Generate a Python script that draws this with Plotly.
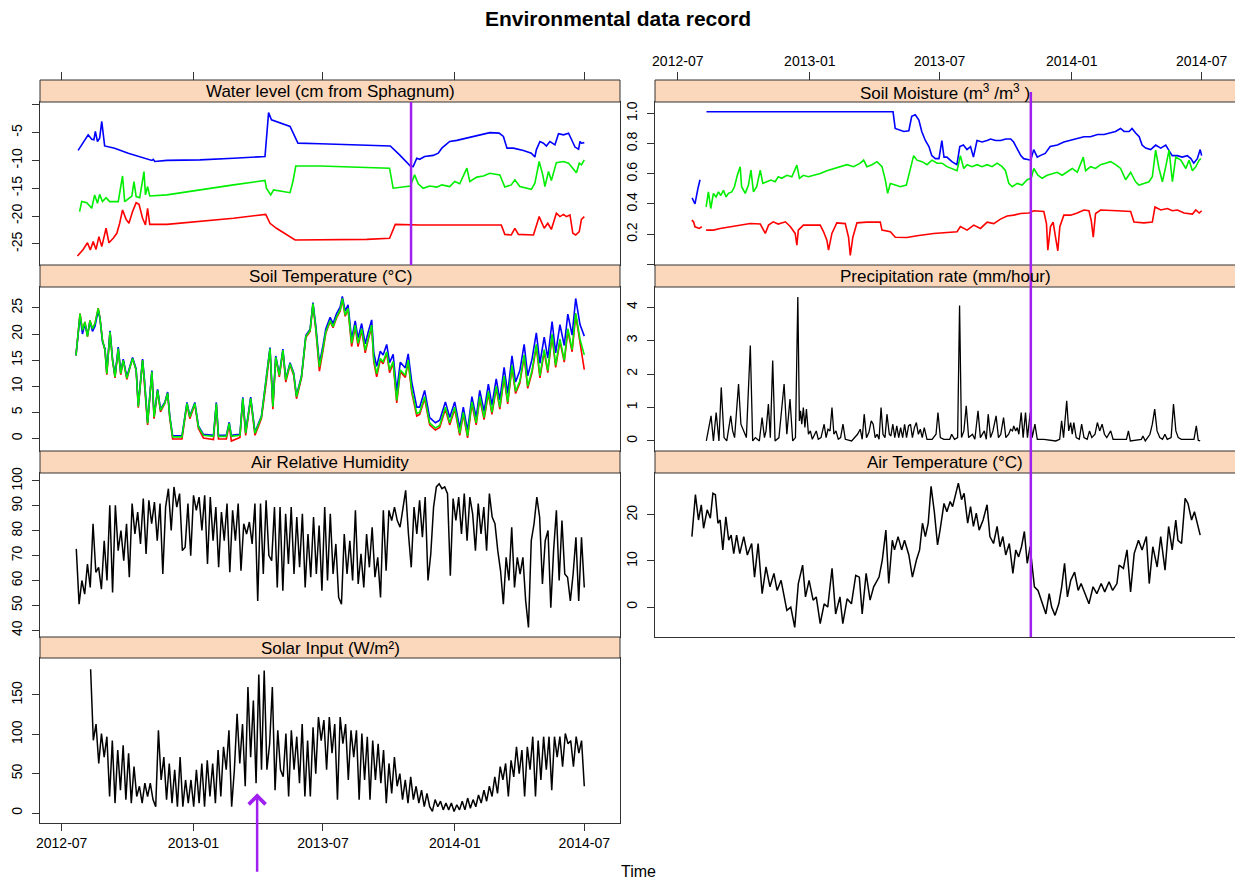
import pandas as pd
import plotly.graph_objects as go

W, H = 1235, 883
BASE = pd.Timestamp("2012-07-01")
FONT = "Liberation Sans, Arial, Helvetica, sans-serif"
LINE = "#333333"
STRIP = "#FBD8BB"
PURPLE = "#A020F0"

# ---------------- data (days since 2012-07-01) ----------------
WL_BLUE_D = [23,37,42,45,47,50,53,56,60,74,93,119,126,128,130,147,193,240,284,289,293,319,330,361,426,459,472,487,491,496,
             500,507,519,526,531,542,552,561,570,580,589,598,611,617,622,631,645,656,661,663,668,673,677,682,689,694,701,708,712,717,
             722,724,726,730]
WL_BLUE = [-8.2,-5.4,-6.2,-6.3,-4.8,-6.6,-6.0,-3.0,-7.4,-7.8,-8.7,-9.7,-10.0,-9.8,-10.2,-10.0,-9.9,-9.6,-9.3,-1.4,
           -2.7,-3.9,-6.9,-7.0,-7.2,-7.4,-9.0,-11.0,-11.1,-9.6,-9.8,-9.3,-9.1,-8.7,-7.8,-6.6,-6.4,-6.1,-5.8,-5.6,
           -5.2,-5.0,-5.1,-5.7,-7.8,-7.8,-8.2,-8.7,-9.4,-8.1,-6.6,-6.9,-7.4,-6.6,-7.2,-5.2,-5.4,-5.1,-6.2,-7.6,
           -8.0,-6.6,-6.9,-6.8]
WL_GREEN_D = [25,28,35,42,46,50,53,57,62,67,79,85,88,98,101,104,109,115,117,120,123,147,240,284,286,292,296,310,319,323,
              327,361,426,458,463,473,487,493,498,505,514,524,531,542,549,556,566,570,580,589,598,612,619,628,633,640,656,661,667,672,
              675,680,684,691,701,708,715,719,723,726,730]
WL_GREEN = [-19.2,-17.4,-17.6,-18.6,-16.2,-17.7,-16.1,-17.4,-16.7,-17.4,-17.4,-12.8,-17.4,-16.4,-13.8,-16.5,-16.7,-12.0,-16.2,-14.7,
            -16.4,-16.2,-14.4,-13.6,-15.0,-16.2,-15.3,-15.6,-15.8,-13.8,-11.0,-11.0,-11.2,-11.4,-15.0,-14.8,-14.6,-12.6,-14.2,-15.0,
            -14.6,-14.8,-14.4,-14.7,-13.8,-14.2,-11.4,-13.8,-13.0,-12.8,-12.3,-12.6,-14.8,-14.4,-13.5,-14.7,-15.2,-14.1,-10.2,-12.6,
            -14.7,-12.0,-13.6,-10.4,-10.2,-10.5,-11.6,-12.2,-10.5,-10.8,-9.9]
WL_RED_D = [22,30,36,40,44,48,52,56,62,66,72,77,81,85,90,94,99,104,108,113,117,120,123,147,240,285,291,300,326,361,
            426,458,466,500,519,614,619,628,633,638,659,663,667,674,679,684,691,696,701,705,710,714,718,723,726,730]
WL_RED = [-27.2,-26.0,-24.8,-26.1,-24.6,-26.0,-23.7,-25.5,-22.2,-24.8,-24.0,-23.1,-21.3,-18.9,-20.6,-21.3,-19.2,-17.6,-17.9,-20.4,
          -21.6,-18.6,-21.5,-21.5,-20.4,-19.7,-21.3,-22.2,-24.3,-24.3,-24.2,-24.0,-21.5,-21.6,-21.6,-21.6,-23.3,-23.4,-22.2,-23.3,
          -23.4,-21.6,-20.1,-22.2,-21.3,-22.4,-19.5,-20.1,-19.7,-20.1,-19.8,-23.1,-23.4,-22.8,-20.6,-20.1]

ST_D = [20,22,25.6,29,32.5,36,39.5,43,46.5,51,53.5,57,60.5,63,67.5,71,74.5,79,82.5,86,91,95.5,99,104,107,113,116,120,126,129,
        134,138,144,148,151,155,168,175,179,186,191,198,212,216,219,230,234,237,249,253,257,264,270,279,286,291,295,299,304,309,
        313,319,324,328,335,341,347,351,355,360,365,369,375,379,384,389,392,396,400,405,410,414,419,424,428,433,436,440,445,449,
        454,458,463,468,473,480,484,489,496,500,507,514,522,528,536,542,549,556,561,567,573,579,584,590,596,601,607,612,618,623,
        629,634,640,646,651,657,663,668,674,679,685,690,696,702,707,713,718,724,730]
ST_GREEN = [15.9,18.8,23.9,20.7,22.3,19.5,22.6,21.0,22.0,24.9,23.0,18.8,16.9,12.4,20.4,15.0,11.8,17.2,12.4,15.0,
            11.5,13.7,15.3,13.1,6.1,15.0,10.5,2.9,12.8,4.1,9.2,5.4,6.7,8.7,4.1,0.3,0.3,6.7,4.1,6.7,
            2.2,0.6,0.4,6.7,0.4,0.4,2.9,0.4,0.6,7.7,1.0,7.7,1.0,4.1,11.2,17.2,6.1,15.6,12.1,16.9,
            11.2,14.3,12.4,8.0,11.8,19.5,20.7,25.8,21.0,13.7,17.2,20.4,22.6,21.4,23.3,24.6,26.8,23.6,24.9,18.2,
            21.7,18.2,21.0,16.9,19.1,21.7,15.0,12.4,15.3,14.7,16.6,13.1,14.7,7.3,13.1,12.1,15.0,9.2,4.8,5.0,
            8.0,3.0,2.0,2.5,6.0,3.0,6.0,1.0,5.0,0.5,7.0,3.0,8.0,4.0,9.0,5.0,10.0,6.0,12.0,7.0,
            14.0,9.0,11.0,16.0,10.0,13.0,18.0,12.0,17.0,13.0,20.0,14.0,19.0,15.0,21.0,17.0,24.0,19.0,16.0]
ST_BLUE = [15.9,18.6,23.5,20.0,22.0,19.8,22.4,20.5,21.5,24.5,23.0,18.5,17.2,12.8,20.6,15.3,12.0,17.5,12.6,15.2,
           11.8,13.9,15.5,13.3,6.3,15.2,10.7,3.1,13.0,4.3,9.4,5.6,6.9,8.9,4.3,0.5,0.5,6.9,4.3,6.9,
           2.4,0.8,0.6,6.9,0.6,0.6,3.1,0.6,0.8,7.9,1.2,7.9,1.2,4.3,11.4,17.4,6.3,15.8,12.3,17.1,
           11.4,14.5,12.6,8.2,12.0,19.7,20.9,26.0,21.5,14.3,17.8,21.0,23.2,22.0,23.9,25.2,27.2,24.4,25.6,19.0,
           22.5,19.2,22.0,18.1,20.3,22.7,16.4,13.8,16.7,16.0,18.0,14.5,16.1,9.0,14.6,13.5,16.2,10.8,6.0,6.0,
           9.2,4.0,3.0,3.5,7.0,4.0,7.0,2.0,6.0,1.5,8.0,4.0,9.2,5.2,10.4,6.4,11.4,7.4,13.6,8.6,
           15.8,10.8,13.0,18.0,12.0,15.2,20.2,14.4,19.4,15.4,22.4,16.4,21.8,17.8,23.8,19.8,26.8,21.8,19.6]
ST_RED = [15.9,18.8,23.9,20.7,22.3,19.5,22.6,21.0,22.0,24.9,23.0,18.8,16.9,12.2,20.4,15.0,11.6,17.2,12.2,15.0,
          11.3,13.7,15.3,13.1,5.9,15.0,10.3,2.6,12.8,3.8,9.2,5.1,6.7,8.7,3.8,-0.1,-0.1,6.5,3.8,6.5,
          1.9,0.1,-0.2,6.5,-0.1,-0.1,2.6,-0.5,0.2,7.5,0.6,7.5,0.6,3.8,11.0,17.0,5.6,15.4,11.8,16.7,
          10.8,14.1,12.1,7.6,11.6,19.3,20.5,25.6,20.8,12.9,16.8,20.2,22.4,21.2,23.1,24.4,26.6,23.4,24.7,17.6,
          21.4,17.6,20.7,16.4,18.8,21.4,14.6,11.8,15.0,14.3,16.3,12.6,14.4,6.8,12.8,11.7,14.7,8.8,4.3,4.6,
          7.6,2.6,1.6,2.1,5.6,2.6,5.6,0.6,4.6,0.1,6.6,2.6,7.6,3.6,8.6,4.6,9.6,5.6,11.6,6.6,
          13.6,8.6,10.6,15.6,9.6,12.6,17.6,11.6,16.6,12.6,19.6,13.6,18.6,14.6,20.6,16.6,23.6,18.6,13.2]

HUM_START, HUM_END = 20.4, 730
HUMIDITY = [72.7,50.5,60,54.5,66.6,57.2,82.8,63.3,65.3,56.5,76,60,90.2,55.2,90.2,72,80.1,68,82.8,61.3,
            90.9,78.7,87.5,74.7,92.9,70.7,92.2,82.8,91.5,76,90.9,62.6,89.5,96.9,80.1,97.6,89.5,94.9,72,73.4,
            90.9,70,94.2,88.2,93.5,80.1,94.2,66.6,93.5,76,89.5,65.3,87.5,76,90.9,63.3,88.2,76,90.9,63.9,
            82.8,78.7,83.5,74.7,90.9,51.8,90.9,62.6,92.2,70,68,89.5,57.2,89.5,55.9,86.8,66.6,89.5,62.6,85.5,
            65.3,86.8,57.2,78.7,61.3,85.5,62.6,82.1,55.9,89.5,60,86.8,62.6,74.7,53.2,50.5,78.7,62.6,76,60,
            88.2,58.6,70.7,57.2,78.7,65.3,81.4,61.3,69.3,53.2,88.2,63.9,88.2,84.1,89.5,84.1,81.4,89.5,96.2,78.7,
            65.3,89.5,78.7,92.2,77.4,93.5,60,70.7,89.5,97.6,98.9,96.9,97.6,94.9,61.9,92.9,84.1,93.5,78.7,94.9,
            76,93.5,86.8,72,90.9,78.7,89.5,72,94.9,85.5,82.8,72,63.9,50.5,69.3,60,81.4,57.2,69.3,62.6,
            69.3,51.8,41.1,76,82.8,93.5,85.5,58.6,76,80.1,49.1,72,88.2,60,84.1,62.6,61.3,51.8,62.6,77.4,
            51.8,77.4,57.2]

SOL_START, SOL_END = 40.4, 730
SOLAR = [182.8,92.4,113,63,101,71,97,21,92,12.6,80,29,86,17,76,12.6,59,21,34,12.6,
         38,21,38,17,8,105,42,71,17,63,12.6,55,8,71,8,42,12.6,42,8,55,
         12.6,63,8,67,21,63,12.6,80,21,84,55,105,8,55,126,63,113,34,160,71,
         143,38,176,55,181,55,88,160,29,105,55,46,101,21,105,55,97,38,113,21,
         92,21,109,50,122,92,118,55,122,76,113,17,122,88,113,42,105,71,105,17,
         101,42,97,17,92,42,88,38,80,12.6,63,25,71,34,50,17,42,12.6,46,17,
         34,12.6,29,8,25,8,2,17,8,15,4,12.6,4,12.6,2,10.5,4,15,4,19,
         6,17,8,23,12.6,29,15,34,21,46,25,59,42,63,21,67,46,84,50,80,
         21,84,55,97,21,92,42,97,55,97,29,97,71,97,59,101,88,92,59,97,
         76,92,34]

SM_BLUE_D = [20,24,28,31,35,40,300,303,308,315,322,326,331,336,340,345,350,354,359,364,
             368,371,375,382,389,393,398,403,408,412,417,424,431,436,443,450,457,464,468,473,
             478,482,489,492,496,501,505,512,519,529,538,547,557,566,575,585,594,603,610,617,
             622,629,633,638,643,647,652,659,666,673,680,685,689,696,703,710,715,719,724,728,730]
SM_BLUE = [0.44,0.40,0.50,0.56,None,1.01,1.01,0.90,0.89,0.88,0.885,0.98,0.99,0.956,0.88,0.82,0.78,0.72,0.70,0.70,
           0.82,0.71,0.71,0.68,0.66,0.78,0.79,0.76,0.78,0.71,0.82,0.81,0.82,0.83,0.82,0.82,0.83,0.83,0.81,0.76,
           0.72,0.70,0.69,0.69,0.76,0.71,0.72,0.735,0.78,0.79,0.81,0.82,0.83,0.845,0.845,0.86,0.86,0.87,0.88,0.90,
           0.88,0.88,0.90,0.87,0.845,0.79,0.77,0.76,0.79,0.77,0.79,0.75,0.72,0.72,0.71,0.72,0.70,0.67,0.70,0.76,0.72]
SM_GREEN_D = [39.5,42.7,46,49.7,53.4,56.7,60,63.6,67.4,70.6,75.3,79,83,87,89,94,98.5,102,105.5,110,
              115,118.5,124,130,135.7,140,145,152,159,166,169.6,175,182,191.5,198.5,207.8,217.1,226.4,235.7,245,
              254.3,259,263.6,270.6,277.6,284.6,289.2,292.5,296.2,303.2,310.1,318.5,324.1,328.7,333.4,340.4,347.3,354.3,361.3,368.3,
              375.2,382.2,389.2,393.8,398.5,403.2,410.1,417.1,424.1,431.1,438,445,452,456.7,461.3,466,473,479.9,486.9,492.5,
              496.2,501.8,507.8,514.8,521.8,528.7,535.7,542.7,549.7,556.7,565.1,568.3,575.3,582.2,589.2,596.2,603.2,610.1,617.1,624.1,
              631.1,638,642.7,649.6,656.6,661.3,665.9,670.6,675.3,680,684.6,689.3,694,701,708,712.5,717.2,721.9,726.6,729]
SM_GREEN = [0.38,0.48,0.37,0.47,0.447,0.48,0.456,0.49,0.447,0.47,0.48,0.514,0.59,0.646,0.514,0.47,0.525,0.624,0.48,0.514,
            0.624,0.536,0.547,0.558,0.547,0.58,0.57,0.59,0.58,0.657,0.57,0.59,0.58,0.59,0.602,0.62,0.635,0.647,0.66,0.647,
            0.67,0.69,0.647,0.66,0.68,0.647,0.56,0.47,0.536,0.525,0.514,0.525,0.635,0.72,0.69,0.68,0.66,0.69,0.67,0.67,
            0.647,0.635,0.62,0.72,0.635,0.66,0.647,0.66,0.647,0.66,0.647,0.67,0.647,0.62,0.536,0.514,0.536,0.525,0.56,0.57,
            0.635,0.59,0.57,0.59,0.60,0.61,0.59,0.61,0.635,0.61,0.71,0.62,0.647,0.635,0.66,0.67,0.68,0.66,0.635,0.56,
            0.61,0.547,0.525,0.536,0.547,0.58,0.757,0.635,0.547,0.647,0.757,0.547,0.71,0.69,0.635,0.69,0.62,0.647,0.69,0.70]
SM_RED_D = [19.5,22,24,30,33.5,36,39.5,49.7,59,73,87,101,115,122,126.5,133,140,150,157,163.6,
            166,168,175,198.5,203.2,207.8,210.1,214.8,221.6,233.4,238,240.4,244,249.7,263.6,282.2,284.6,296.2,303.2,319.4,
            333.4,356.6,389.2,393.8,403.2,412.5,421.8,431.1,440.4,449.7,459,468.3,477.6,489.2,496.2,510.1,513.8,515.7,519.4,523.1,
            526.4,529.6,532.4,538,547.4,556.7,566,573,576.2,579,582.2,589.2,612.5,631.1,635.7,649.6,661.3,665,673,682.2,
            689.3,696.2,705.5,717.2,721.9,726.6,730.1]
SM_RED = [0.293,0.282,0.249,0.238,0.249,None,0.227,0.227,0.238,0.249,0.26,0.271,0.267,0.205,0.26,0.282,0.267,0.282,0.249,0.205,
          0.127,0.227,0.26,0.26,0.216,0.16,0.094,0.205,0.275,0.27,0.18,0.06,0.18,0.275,0.28,0.28,0.227,0.216,0.18,0.178,
          0.19,0.205,0.216,0.25,0.227,0.26,0.238,0.28,0.27,0.30,0.32,0.326,0.337,0.34,0.355,0.35,0.27,0.094,0.25,0.28,
          0.18,0.09,0.25,0.326,0.326,0.34,0.36,0.355,0.29,0.18,0.337,0.36,0.355,0.35,0.28,0.275,0.28,0.38,0.36,0.37,
          0.355,0.36,0.34,0.333,0.36,0.34,0.355]

PR_D = [39.8,46.4,49.7,53.5,57.4,60.6,64.5,68.3,73.8,76.5,79.2,84.7,88,91.8,95.6,101.1,104.4,108.2,113.7,117.5,
        120.8,123,126.3,129,132.3,135.6,141,148.2,152,156.4,160.2,164,167.3,169.5,171.1,172.8,175,177.2,179.3,182.1,
        184.8,187.5,193,195.8,199.6,204,206.7,209.4,212.2,214.9,217.6,220.4,223.7,226.9,230.2,233.5,242.3,250.5,254.3,257,
        259.8,263,266.3,269.6,272.3,275.1,277.8,280.5,283.3,286,288.8,291.5,294.8,297,299.7,302.4,305.2,307.9,310.6,313.4,
        316.1,318.8,321.6,324.3,327,329.8,332.5,335.3,338,340.7,343.5,347.3,354.4,359.9,362.6,365.9,370.8,379,381.7,385.6,
        390,392.7,395.4,398.7,402,405.3,410.7,414,418.4,421.7,427.2,429.9,432.6,435.9,439.2,443.6,446.9,450.1,454,457.2,
        461.1,463.8,466.5,468.2,470.9,473.1,475.3,478.6,481.3,484.6,487.3,491.2,493.9,497.7,501,510.3,526.7,532.2,534.9,537.6,
        542,544.8,547.5,549.7,551.9,555.2,559.5,562.8,566.1,570.5,573.8,577,581.4,584.7,588,591.3,594.6,597.8,603.3,606.6,
        619.7,625.2,628,630.7,646,648.2,651.5,658,661.3,664.6,667.9,671.7,675.5,678.8,682.1,687.5,690.8,694.1,697.4,701.8,
        710,719.3,722.6,725.3,728]
PRECIP = [0,0.75,0,0.85,0,1.6,0.1,0,0.75,0.3,0.1,1.7,0.5,0.3,0.1,2.85,0,0.1,0,0.7,
          0.1,0.3,1.1,0.1,2.4,0,0.1,1.7,0.2,1.25,0,0.1,4.3,0.6,0.9,0.5,1.0,0.4,0.95,0.2,
          0.3,0.05,0.3,0.05,0.1,0.5,0.1,0.35,0.3,1.0,0.2,0.3,0.05,0.1,0.5,0.05,0,0.2,0.35,0.05,
          0.8,0.1,0.25,0.6,0.5,0.1,0.2,0.05,1.0,0.2,0.1,0.8,0.2,0.15,0.5,0.1,0.45,0.1,0.4,0.1,
          0.5,0.1,0.45,0.5,0.1,0.4,0.55,0.2,0.35,0.1,0.4,0.05,0.05,0.2,0.85,0.1,0.05,0.05,0.2,0.05,
          0.1,4.05,0.1,0.3,1.05,0.1,0.2,0.05,0.9,0.1,0.3,0.05,0.8,0.1,0.3,0.75,0.1,0.2,0.7,0.1,
          0.2,0.35,0.3,0.45,0.3,0.4,0.2,0.85,0.1,0.85,0.1,0.85,0.1,0.5,0.05,0.05,0,0.05,0.6,0.1,
          1.2,0.3,0.55,0.2,0.55,0.1,0.05,0.5,0.1,0.05,0.3,0.1,0.2,0.55,0.3,0.5,0.2,0.1,0.3,0.05,
          0.05,0.05,0.3,0,0.05,0.15,0,0.2,0.5,0.95,0.3,0.1,0.05,0.2,0.05,0.1,1.1,0.3,0.1,0.05,
          0.05,0.05,0.45,0.02,0]

AT_D = [19.7,24.6,28.9,32.8,36,41,45.4,49,52.4,56,59,62.8,67,71,74.4,78,82,86.4,92,97,
        103,107,112,117.6,123,128.5,134,138.4,144,148,152,157.5,163,168,174,178,183,188.6,193,198.5,
        204,209,215,220,226,230,236,242,248,253,257,262.5,268,273,280.5,285,290,294,299,302,
        307,312,316,322,327,332.6,337,341,345,349,353,357.5,362,365.5,371,375,379.6,383,387,391,
        395.5,399,404,408,412,416,420,425.5,431,435,440,445,449,453,457,462,467,471,475,479,
        483,487,491,497,502,507.7,513,517.6,521,525.7,531,535,539,543,547.6,553,558,562,568,573,
        578.7,584,590,595,601,606,612,615,621,626,631,636,642,647,653,657,662,668,673,679,
        684,689,694,697,702,707,711,716,720,724,728]
AIR_TEMP = [15.3,24.4,18.9,22.2,17.1,21.1,19.3,24.7,24.4,18.2,18.9,12.4,19.6,14.5,15.6,11.6,15.6,11.6,15.3,11.3,
            13.8,6.5,13.8,2.9,8.7,4.4,7.3,3.6,5.8,2.2,-0.7,0.0,-4.4,5.1,9.1,2.2,5.8,1.5,2.2,-3.6,
            0.7,0.0,8.4,-1.5,2.2,-3.6,1.8,0.7,6.9,6.5,-1.5,7.3,1.5,4.4,6.5,10.2,16.7,5.1,14.5,12.4,
            15.3,12.4,14.5,11.3,6.5,10.2,12.4,18.2,15.3,18.2,26.2,20.7,13.5,16.7,22.5,20.7,22.9,21.8,24.4,26.9,
            23.3,24.7,18.2,21.8,17.5,20.4,16.7,18.9,22.2,15.3,13.8,17.5,13.1,15.3,11.3,13.8,7.3,12.4,10.9,13.1,
            16.4,9.5,13.1,4.4,3.6,0.7,-1.5,2.9,0.0,-1.8,0.7,4.4,9.5,2.2,5.8,7.6,3.6,5.1,2.9,0.7,
            4.4,2.9,5.1,3.3,5.5,3.6,5.1,9.1,8.4,12.4,3.3,11.6,14.5,12.4,15.3,5.1,13.1,8.7,15.3,8.0,
            17.5,12.4,18.9,14.5,13.8,23.6,22.5,18.9,20.7,18.2,15.6]

TICK_DATES = ["2012-07-01", "2013-01-01", "2013-07-01", "2014-01-01", "2014-07-01"]
EVENT_LEFT = "2013-11-01"
EVENT_RIGHT = "2013-11-05"
ARROW_DATE = "2013-03-31"

# ---------------- helpers ----------------
def to_dates(days):
    return [BASE + pd.Timedelta(days=float(d)) for d in days]

def even_dates(start, end, n):
    return list(pd.date_range(BASE + pd.Timedelta(days=start), BASE + pd.Timedelta(days=end), periods=n))

def px_x(p):
    return p / W

def px_y(p):
    return 1 - p / H

LEFT = (40, 620)
RIGHT = (655, 1236)
# (strip top, plot top, plot bottom)
ROWS = [(80, 102, 265), (265, 287, 451), (451, 473, 637), (637, 658, 823)]
XR_LEFT = ["2012-05-31 17:00", "2014-08-19 21:00"]
XR_RIGHT = ["2012-05-30 07:00", "2014-08-16 12:00"]

fig = go.Figure()

def add_line(x, y, color, ax, width=1.6):
    fig.add_trace(go.Scatter(x=x, y=y, mode="lines", line=dict(color=color, width=width),
                             xaxis=ax[0], yaxis=ax[1], showlegend=False, hoverinfo="skip",
                             connectgaps=False))

# Left column
add_line(to_dates(WL_BLUE_D), WL_BLUE, "#0000FF", ("x", "y"))
add_line(to_dates(WL_GREEN_D), WL_GREEN, "#00EE00", ("x", "y"))
add_line(to_dates(WL_RED_D), WL_RED, "#FF0000", ("x", "y"))

add_line(to_dates(ST_D), ST_RED, "#FF0000", ("x2", "y2"))
add_line(to_dates(ST_D), ST_BLUE, "#0000FF", ("x2", "y2"))
add_line(to_dates(ST_D), ST_GREEN, "#00EE00", ("x2", "y2"))

add_line(even_dates(HUM_START, HUM_END, len(HUMIDITY)), HUMIDITY, "#000000", ("x3", "y3"), 1.5)
add_line(even_dates(SOL_START, SOL_END, len(SOLAR)), SOLAR, "#000000", ("x4", "y4"), 1.5)

# Right column
add_line(to_dates(SM_BLUE_D), SM_BLUE, "#0000FF", ("x5", "y5"))
add_line(to_dates(SM_GREEN_D), SM_GREEN, "#00EE00", ("x5", "y5"))
add_line(to_dates(SM_RED_D), SM_RED, "#FF0000", ("x5", "y5"))
add_line(to_dates(PR_D), PRECIP, "#000000", ("x6", "y6"), 1.3)
add_line(to_dates(AT_D), AIR_TEMP, "#000000", ("x7", "y7"), 1.5)

# dummy traces so the top tick axes are drawn
fig.add_trace(go.Scatter(x=[TICK_DATES[0]], y=[None], xaxis="x8", yaxis="y", showlegend=False, hoverinfo="skip"))
fig.add_trace(go.Scatter(x=[TICK_DATES[0]], y=[None], xaxis="x9", yaxis="y5", showlegend=False, hoverinfo="skip"))

tickfont = dict(family=FONT, size=14, color="black")

def xax(col, row, anchor, show=False):
    xr = XR_LEFT if col == 0 else XR_RIGHT
    xs = LEFT if col == 0 else RIGHT
    return dict(domain=[px_x(xs[0]), min(1.0, px_x(xs[1]))], range=xr, type="date", anchor=anchor,
                showline=True, mirror=True, linecolor=LINE, linewidth=1, showgrid=False, zeroline=False,
                ticks="outside" if show else "", showticklabels=show, tickvals=TICK_DATES, tickformat="%Y-%m",
                ticklen=7, tickcolor=LINE, tickfont=tickfont, automargin=False, fixedrange=True)

def yax(row, anchor, rng, tickvals, ticktext=None):
    _, top, bot = ROWS[row]
    d = dict(domain=[px_y(bot), px_y(top)], range=rng, anchor=anchor, showline=True, mirror=True,
             linecolor=LINE, linewidth=1, showgrid=False, zeroline=False, ticks="outside", ticklen=7,
             tickcolor=LINE, tickvals=tickvals, tickangle=-90, tickfont=tickfont, automargin=False,
             fixedrange=True, ticklabelstandoff=4)
    if ticktext is not None:
        d["ticktext"] = ticktext
    return d

layout = dict(
    width=W, height=H, margin=dict(l=0, r=0, t=0, b=0), autosize=False,
    paper_bgcolor="white", plot_bgcolor="white", template="none", showlegend=False,
    xaxis=xax(0, 0, "y"), yaxis=yax(0, "x", [-28.8, 0.5], [-25, -20, -15, -10, -5, 0],
                                    ["-25", "-20", "-15", "-10", "-5", " "]),
    xaxis2=xax(0, 1, "y2"), yaxis2=yax(1, "x2", [-2.4, 29.0], [0, 5, 10, 15, 20, 25]),
    xaxis3=xax(0, 2, "y3"), yaxis3=yax(2, "x3", [37.3, 103.2], [40, 50, 60, 70, 80, 90, 100]),
    xaxis4=xax(0, 3, "y4", show=True), yaxis4=yax(3, "x4", [-12.7, 197], [0, 50, 100, 150]),
    xaxis5=xax(1, 0, "y5"), yaxis5=yax(0, "x5", [-0.004, 1.075], [0, 0.2, 0.4, 0.6, 0.8, 1.0],
                                        [" ", "0.2", "0.4", "0.6", "0.8", "1.0"]),
    xaxis6=xax(1, 1, "y6"), yaxis6=yax(1, "x6", [-0.3, 4.6], [0, 1, 2, 3, 4]),
    xaxis7=xax(1, 2, "y7"), yaxis7=yax(2, "x7", [-6.5, 29.1], [0, 10, 20]),
    xaxis8=dict(overlaying="x", anchor="free", position=px_y(80), side="top", range=XR_LEFT, type="date",
                tickvals=TICK_DATES, ticks="outside", ticklen=8, tickcolor=LINE, showticklabels=False,
                showline=False, showgrid=False, zeroline=False, automargin=False, fixedrange=True),
    xaxis9=dict(overlaying="x5", anchor="free", position=px_y(80), side="top", range=XR_RIGHT, type="date",
                tickvals=TICK_DATES, tickformat="%Y-%m", ticks="outside", ticklen=8, tickcolor=LINE,
                showticklabels=True, tickfont=tickfont, showline=False, showgrid=False, zeroline=False,
                automargin=False, fixedrange=True),
)
fig.update_layout(**layout)

STRIP_TITLES_LEFT = ["Water level (cm from Sphagnum)", "Soil Temperature (°C)",
                     "Air Relative Humidity", "Solar Input (W/m²)"]
STRIP_TITLES_RIGHT = ["Soil Moisture (m<sup>3</sup> /m<sup>3</sup> )", "Precipitation rate (mm/hour)",
                      "Air Temperature (°C)"]

shapes = []
annotations = []
for col, titles in ((LEFT, STRIP_TITLES_LEFT), (RIGHT, STRIP_TITLES_RIGHT)):
    for i, t in enumerate(titles):
        s_top, s_bot, _ = ROWS[i]
        shapes.append(dict(type="rect", xref="paper", yref="paper", x0=px_x(col[0]), x1=px_x(col[1]),
                           y0=px_y(s_bot), y1=px_y(s_top), fillcolor=STRIP,
                           line=dict(color=LINE, width=1), layer="above"))
        annotations.append(dict(text=t, xref="paper", yref="paper", x=px_x((col[0] + min(col[1], 1235)) / 2),
                                y=px_y((s_top + s_bot) / 2 + 0.5), showarrow=False, xanchor="center",
                                yanchor="middle", font=dict(family=FONT, size=17, color="black")))

# event markers
shapes.append(dict(type="line", xref="x", yref="y domain", x0=EVENT_LEFT, x1=EVENT_LEFT, y0=0, y1=1,
                   line=dict(color=PURPLE, width=2.5), layer="above"))
shapes.append(dict(type="line", xref="x5", yref="paper", x0=EVENT_RIGHT, x1=EVENT_RIGHT,
                   y0=px_y(637), y1=px_y(92), line=dict(color=PURPLE, width=2.5), layer="above"))

annotations.append(dict(text="", x=ARROW_DATE, y=25, xref="x4", yref="y4", showarrow=True, ax=0, ay=80,
                        arrowhead=4, arrowsize=1.3, arrowwidth=2.5, arrowcolor=PURPLE, standoff=0))
annotations.append(dict(text="<b>Environmental data record</b>", xref="paper", yref="paper", x=0.5,
                        y=px_y(18), showarrow=False, xanchor="center", yanchor="middle",
                        font=dict(family=FONT, size=21, color="black")))
annotations.append(dict(text="Time", xref="paper", yref="paper", x=px_x(638), y=px_y(882), showarrow=False,
                        xanchor="center", yanchor="bottom", font=dict(family=FONT, size=16, color="black")))

fig.update_layout(shapes=shapes, annotations=annotations)

fig.write_html("out.html", include_plotlyjs=True, config={"displayModeBar": False, "staticPlot": True},
               post_script="document.body.style.margin='0';document.body.style.overflow='hidden';")
